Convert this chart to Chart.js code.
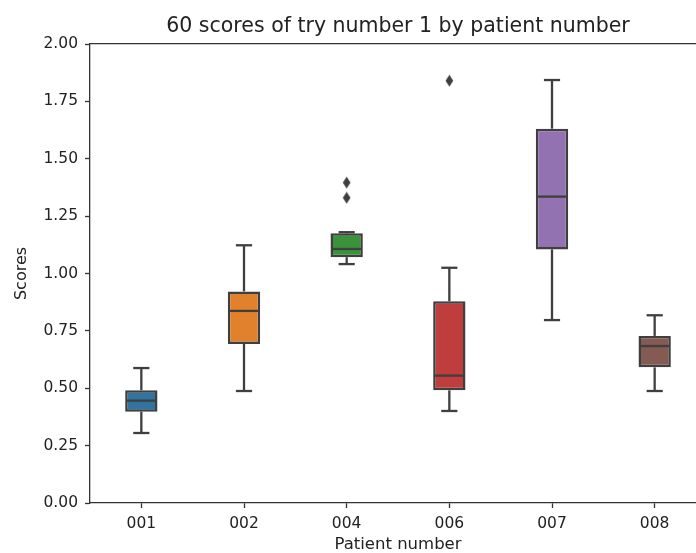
<!DOCTYPE html>
<html>
<head>
<meta charset="utf-8">
<script src="https://cdn.jsdelivr.net/npm/chart.js@4"></script>
<style>
  html, body { margin: 0; padding: 0; background: #fff; overflow: hidden; }
  #wrap { width: 696px; height: 553px; overflow: hidden; position: relative; }
  canvas { display: block; }
</style>
</head>
<body>
<div id="wrap"><canvas id="c" width="720" height="553"></canvas></div>
<script>
// ---- data ----
const categories = ['001', '002', '004', '006', '007', '008'];
const lowerWhisker = [0.305, 0.488, 1.041, 0.401, 0.797, 0.488];
const q1Values     = [0.398, 0.693, 1.071, 0.491, 1.105, 0.591];
const medianValues = [0.446, 0.837, 1.107, 0.555, 1.335, 0.684];
const q3Values     = [0.491, 0.922, 1.175, 0.879, 1.631, 0.728];
const upperWhisker = [0.588, 1.123, 1.180, 1.025, 1.843, 0.818];
const outlierCategories = ['004', '004', '006'];
const outlierValues     = [1.396, 1.330, 1.840];
const yTickValues = [0, 0.25, 0.5, 0.75, 1.0, 1.25, 1.5, 1.75, 2.0];

// ---- styles ----
const boxColors = ['#3274a1', '#e1812c', '#3a923a', '#c03d3e', '#9372b2', '#845b53'];
const lineColor = '#3f3f3f';
const axisColor = '#333333';
const textColor = '#222222';
const FONT = 'DejaVu Sans';

// thin diamond marker
const diamond = document.createElement('canvas');
diamond.width = 9; diamond.height = 13;
(function () {
  const g = diamond.getContext('2d');
  g.fillStyle = lineColor;
  g.beginPath();
  g.moveTo(4.5, 0.5); g.lineTo(8.3, 6.5); g.lineTo(4.5, 12.5); g.lineTo(0.7, 6.5);
  g.closePath(); g.fill();
})();

const boxDetails = {
  id: 'boxDetails',
  afterDatasetsDraw(chart) {
    const meta = chart.getDatasetMeta(0);
    const ys = chart.scales.y;
    const ctx = chart.ctx;
    ctx.save();
    ctx.strokeStyle = lineColor;
    ctx.lineWidth = 2.3;
    ctx.lineCap = 'butt';
    const seg = (x1, y1, x2, y2) => { ctx.beginPath(); ctx.moveTo(x1, y1); ctx.lineTo(x2, y2); ctx.stroke(); };
    meta.data.forEach((bar, i) => {
      const p = bar.getProps(['x', 'width'], true);
      const x = p.x, half = p.width / 2, cap = p.width / 4;
      const yLo = ys.getPixelForValue(lowerWhisker[i]);
      const yQ1 = ys.getPixelForValue(q1Values[i]);
      const yMed = ys.getPixelForValue(medianValues[i]);
      const yQ3 = ys.getPixelForValue(q3Values[i]);
      const yHi = ys.getPixelForValue(upperWhisker[i]);
      seg(x, yQ3, x, yHi);
      seg(x - cap, yHi, x + cap, yHi);
      seg(x, yQ1, x, yLo);
      seg(x - cap, yLo, x + cap, yLo);
      seg(x - half + 1, yMed, x + half - 1, yMed);
    });
    ctx.restore();
  }
};

new Chart(document.getElementById('c'), {
  type: 'bar',
  data: {
    labels: categories,
    datasets: [
      {
        label: 'Scores',
        data: q1Values.map((v, i) => [v, q3Values[i]]),
        backgroundColor: boxColors,
        borderColor: lineColor,
        borderWidth: 2.5,
        borderSkipped: false,
        categoryPercentage: 0.315,
        barPercentage: 1.0,
        xAxisID: 'x',
        yAxisID: 'y'
      },
      {
        type: 'scatter',
        label: 'Outliers',
        data: outlierCategories.map((c, i) => ({ x: c, y: outlierValues[i] })),
        pointStyle: diamond,
        pointRadius: 5,
        xAxisID: 'x',
        yAxisID: 'y'
      }
    ]
  },
  options: {
    responsive: false,
    devicePixelRatio: 1,
    animation: false,
    layout: { padding: { left: 0, right: 14, top: 0, bottom: 0 } },
    plugins: {
      legend: { display: false },
      tooltip: { enabled: false },
      title: {
        display: true,
        text: '60 scores of try number 1 by patient number',
        fullSize: false,
        color: textColor,
        font: { family: FONT, size: 20.5, weight: 'normal', lineHeight: 1.2 },
        padding: { top: 14, bottom: 5.4 }
      }
    },
    scales: {
      x: {
        type: 'category',
        position: 'bottom',
        offset: true,
        grid: { display: true, offset: false, drawOnChartArea: false, drawTicks: true, tickLength: 5, tickColor: axisColor, tickWidth: 1.3 },
        border: { display: true, color: axisColor, width: 1.3 },
        ticks: { color: textColor, font: { family: FONT, size: 15.5 }, padding: 7, maxRotation: 0 },
        title: { display: true, text: 'Patient number', color: textColor, font: { family: FONT, size: 16.5, lineHeight: 1.0 }, padding: { top: -1, bottom: 0 } },
        afterFit(s) { s.height = 50; }
      },
      x2: {
        type: 'category',
        position: 'top',
        labels: categories,
        offset: true,
        grid: { display: false },
        border: { display: true, color: axisColor, width: 1.3 },
        ticks: { display: false },
        afterFit(s) { s.height = 0; }
      },
      y: {
        type: 'linear',
        position: 'left',
        min: 0,
        max: 2,
        afterBuildTicks(s) { s.ticks = yTickValues.map(v => ({ value: v })); },
        grid: { display: true, drawOnChartArea: false, drawTicks: true, tickLength: 5, tickColor: axisColor, tickWidth: 1.3 },
        border: { display: true, color: axisColor, width: 1.3 },
        ticks: { color: textColor, font: { family: FONT, size: 15.5 }, padding: 7, callback: v => Number(v).toFixed(2) },
        title: { display: true, text: 'Scores', color: textColor, font: { family: FONT, size: 16 }, padding: { top: 12.5, bottom: 0 } },
        afterFit(s) { s.width = 90; }
      }
    }
  },
  plugins: [boxDetails]
});
</script>
</body>
</html>
